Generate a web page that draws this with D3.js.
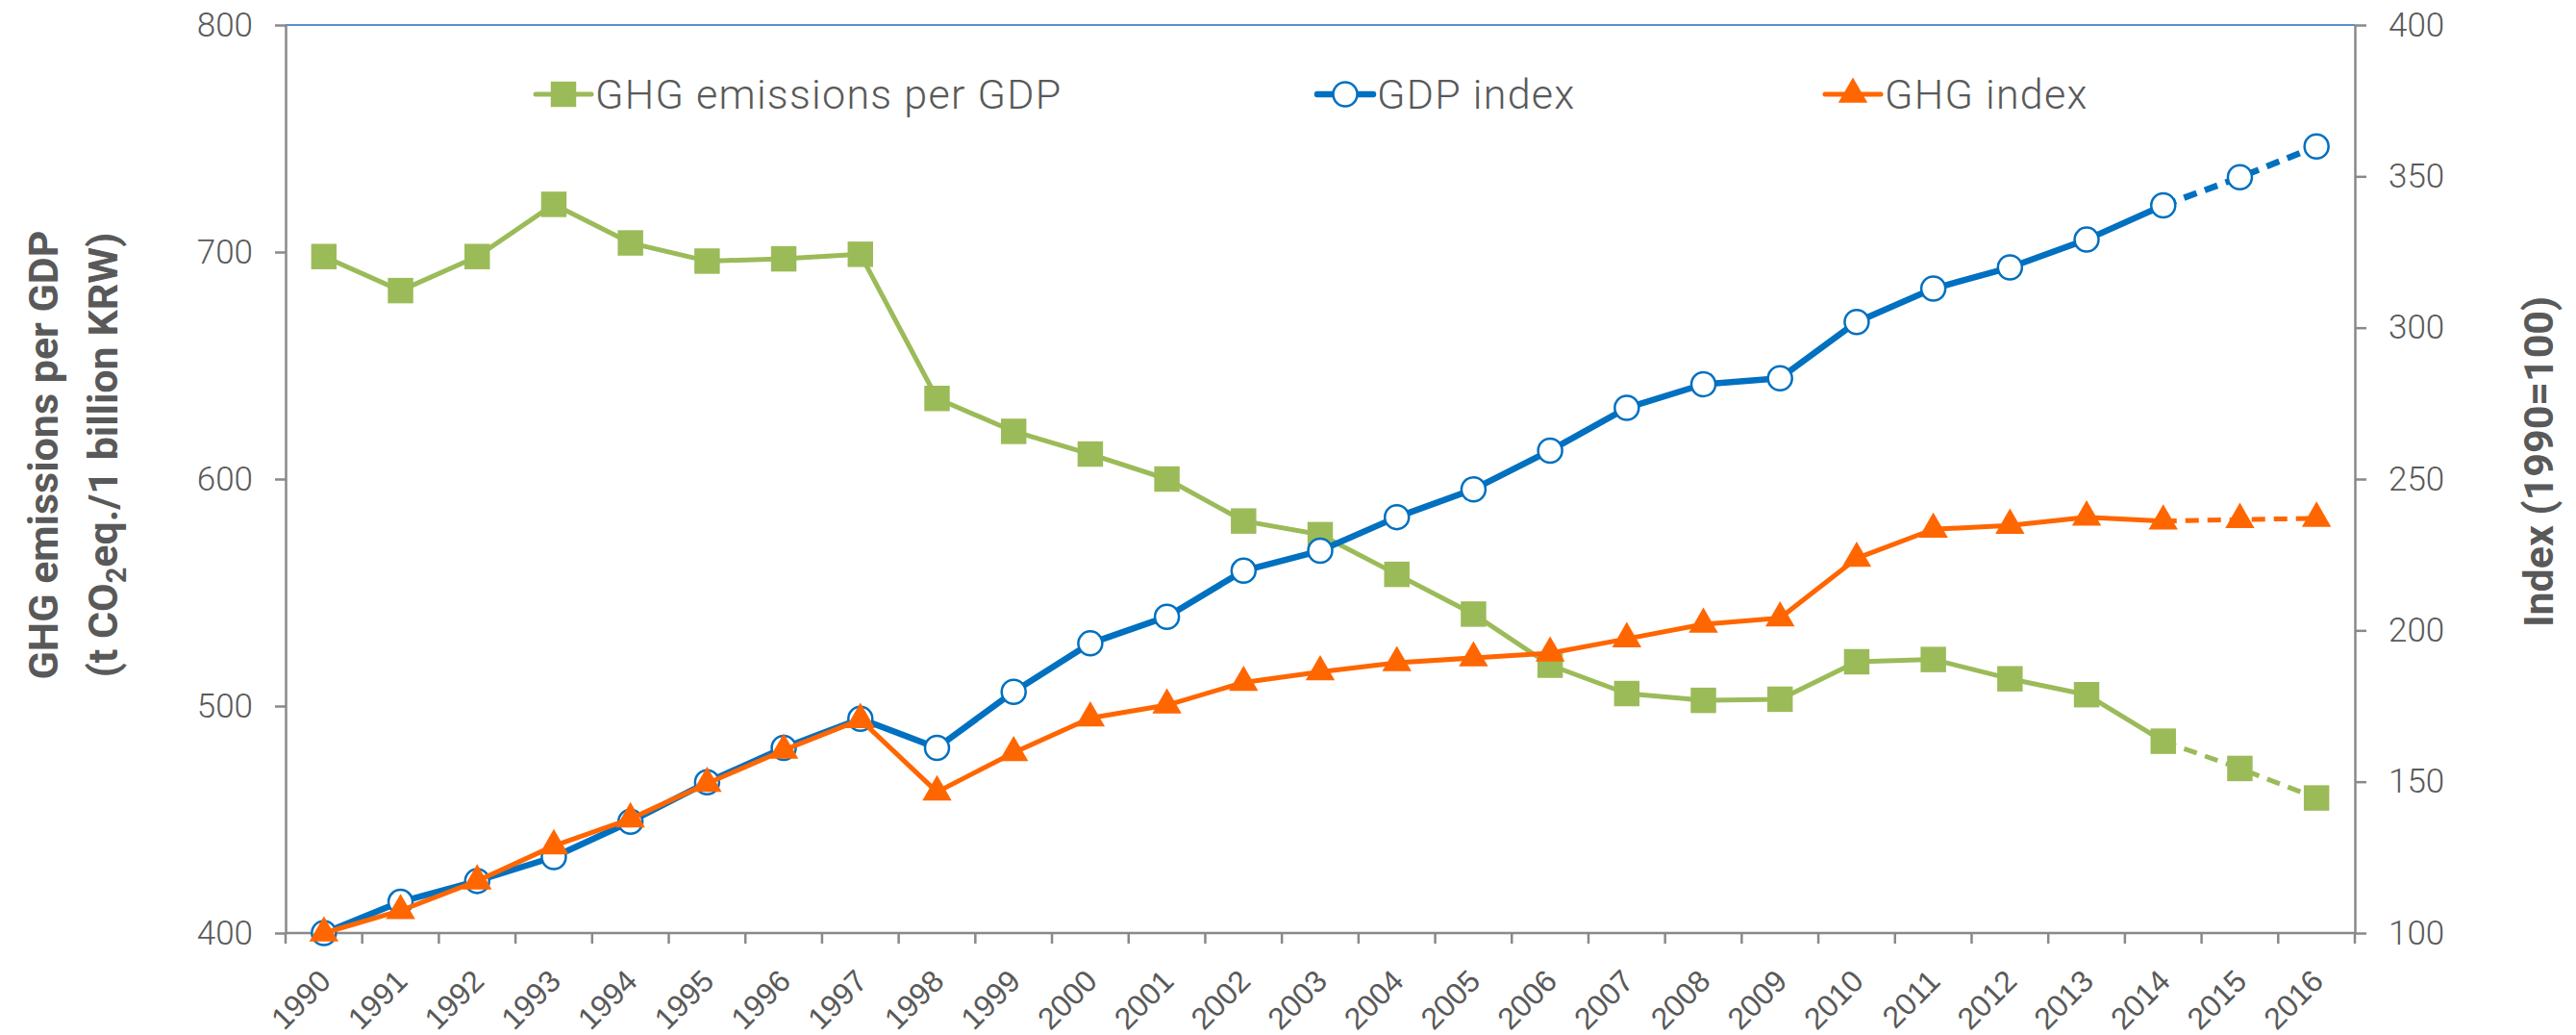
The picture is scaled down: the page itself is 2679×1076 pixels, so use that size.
<!DOCTYPE html>
<html>
<head>
<meta charset="utf-8">
<script src="https://cdn.jsdelivr.net/npm/d3@7"></script>
<style>
  html, body { margin: 0; padding: 0; background: #ffffff; }
  svg { display: block; }
</style>
</head>
<body>
<div id="chart"></div>
<script>
"use strict";

const years = ["1990", "1991", "1992", "1993", "1994", "1995", "1996", "1997", "1998", "1999",
  "2000", "2001", "2002", "2003", "2004", "2005", "2006", "2007", "2008", "2009",
  "2010", "2011", "2012", "2013", "2014", "2015", "2016"];
const ghgPerGdp = [698, 683, 698, 721, 704, 696, 697, 699, 635.5, 621, 611, 600, 581.5, 575.5,
  558, 540.5, 518, 505.5, 502.5, 503, 519.5, 520.5, 512, 505, 484.5, 472.5, 459.5];
const gdpIndex = [100, 110.3, 117.2, 125.1, 136.8, 149.8, 161.2, 170.8, 161.2, 179.7, 195.7,
  204.5, 219.7, 226.3, 237.4, 246.6, 259.4, 273.5, 281.3, 283.3, 301.9, 312.9, 319.9, 329.1,
  340.4, 349.7, 359.9];
const ghgIndex = [100, 107.4, 117.2, 128.8, 137.7, 149.4, 160.4, 170.5, 146.6, 159.6, 171,
  175.3, 182.8, 186.3, 189.3, 190.9, 192.5, 197.2, 202, 204.1, 223.8, 233.4, 234.7, 237.4,
  236.1, 236.6, 237];
const leftTicks = [400, 500, 600, 700, 800];
const rightTicks = [100, 150, 200, 250, 300, 350, 400];
const lastActual = "2014"; // dashed after this year

const width = 2679;
const height = 1076;
const margin = { top: 26, right: 230, bottom: 106, left: 297 };
const innerW = width - margin.left - margin.right;
const innerH = height - margin.top - margin.bottom;

const textGray = "#595959";
const axisGray = "#898989";
const tickFont = "Roboto, 'Liberation Sans', sans-serif";

const series = [
  { name: "GHG emissions per GDP", values: ghgPerGdp, axis: "left", color: "#9BBB59", lineW: 5, marker: "square", legendX: 586 },
  { name: "GDP index", values: gdpIndex, axis: "right", color: "#0070C0", lineW: 6.5, marker: "circle", legendX: 1399 },
  { name: "GHG index", values: ghgIndex, axis: "right", color: "#FF6600", lineW: 5, marker: "triangle", legendX: 1927 },
];

const svg = d3
  .select("#chart")
  .append("svg")
  .attr("width", width)
  .attr("height", height);

const g = svg.append("g").attr("transform", `translate(${margin.left},${margin.top})`);

const x = d3.scaleBand().domain(years).range([0, innerW]);
const yLeft = d3.scaleLinear().domain([400, 800]).range([innerH, 0]);
const yRight = d3.scaleLinear().domain([100, 400]).range([innerH, 0]);

// plot area top border
g.append("line")
  .attr("x1", 0)
  .attr("x2", innerW)
  .attr("y1", 0)
  .attr("y2", 0)
  .attr("stroke", "#5B8FD4")
  .attr("stroke-width", 2);

// left axis
const leftAxis = g
  .append("g")
  .call(d3.axisLeft(yLeft).tickValues(leftTicks).tickSize(11).tickSizeOuter(0).tickPadding(23));
// right axis
const rightAxis = g
  .append("g")
  .attr("transform", `translate(${innerW},0)`)
  .call(d3.axisRight(yRight).tickValues(rightTicks).tickSize(12).tickSizeOuter(0).tickPadding(23));

[leftAxis, rightAxis].forEach((ax) => {
  ax.select(".domain").attr("stroke", axisGray).attr("stroke-width", 2.5);
  ax.selectAll(".tick line").attr("stroke", axisGray).attr("stroke-width", 2.5);
  ax.selectAll(".tick text")
    .attr("fill", textGray)
    .style("font-family", tickFont)
    .style("font-weight", 300)
    .style("font-size", "35px");
});

// bottom axis: line + ticks at category boundaries
const bottom = g.append("g").attr("transform", `translate(0,${innerH})`);
bottom.append("line").attr("x1", 0).attr("x2", innerW).attr("stroke", axisGray).attr("stroke-width", 2.5);
const boundaries = years.map((d) => x(d)).concat([x.range()[1]]);
bottom
  .selectAll(".xtick")
  .data(boundaries)
  .join("line")
  .attr("class", "xtick")
  .attr("x1", (d) => d)
  .attr("x2", (d) => d)
  .attr("y1", 0)
  .attr("y2", 11)
  .attr("stroke", axisGray)
  .attr("stroke-width", 2.5);

bottom
  .selectAll(".xlabel")
  .data(years)
  .join("text")
  .attr("class", "xlabel")
  .attr("transform", (d) => `translate(${x(d) + x.bandwidth() / 2 + 9},${52}) rotate(-45)`)
  .attr("text-anchor", "end")
  .attr("fill", textGray)
  .style("font-family", "'Liberation Sans', Arial, sans-serif")
  .style("font-size", "32px")
  .text((d) => d);

// series
const cut = years.indexOf(lastActual);
series.forEach((s) => {
  const yScale = s.axis === "left" ? yLeft : yRight;
  const pts = years.map((yr, i) => ({ year: yr, v: s.values[i] }));
  const line = d3
    .line()
    .x((d) => x(d.year) + x.bandwidth() / 2)
    .y((d) => yScale(d.v));

  const layer = g.append("g");
  layer
    .append("path")
    .datum(pts.slice(0, cut + 1))
    .attr("d", line)
    .attr("fill", "none")
    .attr("stroke", s.color)
    .attr("stroke-width", s.lineW)
    .attr("stroke-linejoin", "round");
  layer
    .append("path")
    .datum(pts.slice(cut))
    .attr("d", line)
    .attr("fill", "none")
    .attr("stroke", s.color)
    .attr("stroke-width", s.lineW)
    .attr("stroke-dasharray", "14,9");

  drawMarkers(layer, pts, s, (d) => x(d.year) + x.bandwidth() / 2, (d) => yScale(d.v));
});

function drawMarkers(sel, data, s, fx, fy) {
  if (s.marker === "circle") {
    sel
      .selectAll(".mk")
      .data(data)
      .join("circle")
      .attr("class", "mk")
      .attr("cx", fx)
      .attr("cy", fy)
      .attr("r", 12.5)
      .attr("fill", "#ffffff")
      .attr("stroke", s.color)
      .attr("stroke-width", 2.5);
  } else {
    const type = s.marker === "square" ? d3.symbolSquare : d3.symbolTriangle;
    const size = s.marker === "square" ? 700 : 400;
    sel
      .selectAll(".mk")
      .data(data)
      .join("path")
      .attr("class", "mk")
      .attr("transform", (d) => `translate(${fx(d)},${fy(d)})`)
      .attr("d", d3.symbol().type(type).size(size))
      .attr("fill", s.color);
  }
}

// legend
const legend = svg.append("g").attr("transform", "translate(0,98)");
series.forEach((s) => {
  const item = legend.append("g").attr("transform", `translate(${s.legendX},0)`);
  item
    .append("line")
    .attr("x1", -29)
    .attr("x2", 29)
    .attr("stroke", s.color)
    .attr("stroke-width", s.lineW)
    .attr("stroke-linecap", "round");
  drawMarkers(item, [0], s, () => 0, () => 0);
  item
    .append("text")
    .attr("x", 33)
    .attr("y", 15)
    .attr("fill", textGray)
    .style("font-family", tickFont)
    .style("font-weight", 300)
    .style("font-size", "43px")
    .style("letter-spacing", "1.3px")
    .text(s.name);
});

// axis titles
const titleFont = "Roboto, 'Liberation Sans', Arial, sans-serif";
const leftTitle = svg.append("g").attr("transform", "translate(60,473) rotate(-90)");
leftTitle
  .append("text")
  .attr("text-anchor", "middle")
  .attr("fill", textGray)
  .style("font-family", titleFont)
  .style("font-weight", 700)
  .style("font-size", "43px")
  .text("GHG emissions per GDP");
const sub = leftTitle
  .append("text")
  .attr("y", 62)
  .attr("text-anchor", "middle")
  .attr("fill", textGray)
  .style("font-family", titleFont)
  .style("font-weight", 700)
  .style("font-size", "43px");
sub.append("tspan").text("(t CO");
sub.append("tspan").attr("dy", 9).style("font-size", "29px").text("2");
sub.append("tspan").attr("dy", -9).text("eq./1 billion KRW)");

svg
  .append("text")
  .attr("transform", "translate(2655,480) rotate(-90)")
  .attr("text-anchor", "middle")
  .attr("fill", textGray)
  .style("font-family", titleFont)
  .style("font-weight", 700)
  .style("font-size", "43px")
  .text("Index (1990=100)");
</script>
</body>
</html>
